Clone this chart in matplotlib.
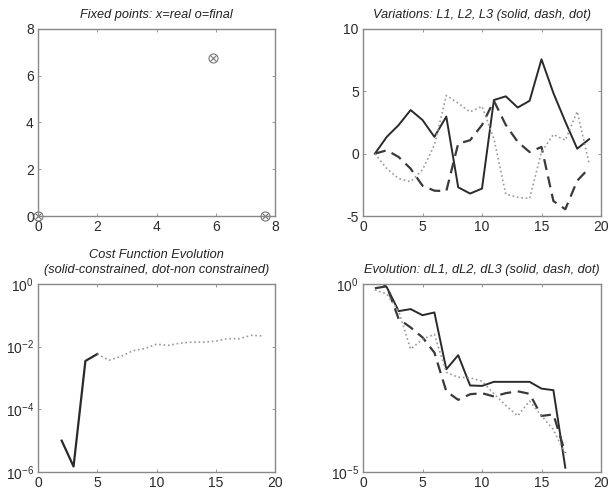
import numpy as np
import matplotlib
matplotlib.use("Agg")
import matplotlib.pyplot as plt

plt.rcParams['font.family'] = ['Liberation Sans', 'DejaVu Sans']
plt.rcParams['mathtext.fontset'] = 'custom'
plt.rcParams['mathtext.rm'] = 'Liberation Sans'
plt.rcParams['mathtext.it'] = 'Liberation Sans:italic'
plt.rcParams['axes.unicode_minus'] = False

# fixed points: real (x) and final (o)
real_x = [0.0, 5.9, 7.65]
real_y = [0.0, 6.75, 0.0]
final_x = [0.0, 5.9, 7.65]
final_y = [0.0, 6.75, 0.0]

# variations
steps = list(range(1, 20))
L1 = [0.0, 1.35, 2.3, 3.5, 2.7, 1.35, 2.97, -2.7, -3.2, -2.8,
      4.3, 4.6, 3.7, 4.24, 7.57, 4.86, 2.57, 0.4, 1.16]
L2 = [0.0, 0.27, -0.27, -1.2, -2.57, -2.97, -3.0, 0.8, 1.08, 2.3,
      4.24, 2.3, 0.95, 0.13, 0.54, -3.8, -4.46, -2.17, -1.16]
L3 = [0.0, -1.2, -2.0, -2.25, -1.3, 0.7, 4.67, 4.05, 3.35, 3.8,
      1.2, -3.25, -3.5, -3.6, 0.13, 1.54, 1.08, 3.38, -0.8]

# cost function
cost_con_x = [2, 3, 4, 5]
cost_con = [1.0e-5, 1.5e-6, 3.5e-3, 5.8e-3]
cost_free_x = list(range(5, 20))
cost_free = [5.8e-3, 3.7e-3, 4.9e-3, 7.4e-3, 8.7e-3, 1.2e-2, 1.1e-2, 1.3e-2,
             1.4e-2, 1.4e-2, 1.5e-2, 1.8e-2, 1.8e-2, 2.3e-2, 2.2e-2]

# evolution of dL
evo_x = list(range(1, 18))
dL1 = [1.6, 0.82, 0.19, 0.215, 0.148, 0.175, 5.4e-3, 1.28e-2, 2.0e-3, 1.95e-3,
       2.5e-3, 2.5e-3, 2.5e-3, 2.5e-3, 1.65e-3, 1.5e-3, 1.3e-5]
dL2 = [0.77, 0.87, 0.117, 0.07, 0.038, 0.015, 1.4e-3, 8.3e-4, 1.17e-3, 1.25e-3,
       1.02e-3, 1.25e-3, 1.4e-3, 1.2e-3, 3.1e-4, 3.4e-4, 3.2e-5]
dL3 = [0.7, 0.54, 0.19, 0.0185, 0.034, 0.046, 4.5e-3, 3.3e-3, 3.2e-3, 2.6e-3,
       1.2e-3, 5.9e-4, 3.1e-4, 7.7e-4, 3.1e-4, 1.35e-4, 2.9e-5]

dark = '#2a2a2a'
mid = '#3a3a3a'
light = '#9a9a9a'

fig = plt.figure(figsize=(6.08, 4.97), dpi=100)
W, H = 608, 497


def make_ax(x0, y0, x1, y1):
    ax = fig.add_axes([x0 / W, 1 - y1 / H, (x1 - x0) / W, (y1 - y0) / H])
    for s in ax.spines.values():
        s.set_color('#888888')
        s.set_linewidth(1.0)
    ax.tick_params(direction='in', length=2.5, width=0.6, colors='#888888',
                   labelcolor='#2a2a2a', labelsize=10, top=True, right=True, pad=3)
    ax.tick_params(which='minor', length=0)
    return ax


tstyle = dict(fontsize=9.2, style='italic', color='#222222')

# top left
ax1 = make_ax(38, 29, 275, 216)
ax1.plot(real_x, real_y, 'x', color='#777777', ms=4.5, mew=0.8, clip_on=False)
ax1.plot(final_x, final_y, 'o', color='#777777', mfc='none', ms=6.5, mew=0.8, clip_on=False)
ax1.set_xlim(0, 8)
ax1.set_ylim(0, 8)
ax1.set_xticks([0, 2, 4, 6, 8])
ax1.set_yticks([0, 2, 4, 6, 8])
ax1.set_title('Fixed points: x=real o=final', pad=8, **tstyle)

# top right
ax2 = make_ax(363, 29, 601, 216)
ax2.plot(steps, L1, '-', color=dark, lw=1.4)
ax2.plot(steps, L2, '--', color=mid, lw=1.6, dashes=(5, 3))
ax2.plot(steps, L3, ':', color=light, lw=1.2)
ax2.set_xlim(0, 20)
ax2.set_ylim(-5, 10)
ax2.set_xticks([0, 5, 10, 15, 20])
ax2.set_yticks([-5, 0, 5, 10])
ax2.set_title('Variations: L1, L2, L3 (solid, dash, dot)', pad=8, **tstyle)

# bottom left
ax3 = make_ax(38, 284, 275, 472)
ax3.semilogy(cost_con_x, cost_con, '-', color=dark, lw=1.6)
ax3.semilogy(cost_free_x, cost_free, ':', color=light, lw=1.2)
ax3.set_xlim(0, 20)
ax3.set_ylim(1e-6, 1)
ax3.set_xticks([0, 5, 10, 15, 20])
ax3.set_yticks([1e-6, 1e-4, 1e-2, 1])
ax3.set_title('Cost Function Evolution\n(solid-constrained, dot-non constrained)',
              pad=8, linespacing=1.3, **tstyle)

# bottom right
ax4 = make_ax(363, 284, 601, 472)
ax4.semilogy(evo_x, dL1, '-', color=dark, lw=1.4)
ax4.semilogy(evo_x, dL2, '--', color=mid, lw=1.6, dashes=(5, 3))
ax4.semilogy(evo_x, dL3, ':', color=light, lw=1.2)
ax4.set_xlim(0, 20)
ax4.set_ylim(1e-5, 1)
ax4.set_xticks([0, 5, 10, 15, 20])
ax4.set_yticks([1e-5, 1])
ax4.set_title('Evolution: dL1, dL2, dL3 (solid, dash, dot)', pad=8, **tstyle)

fig.savefig('out.png', dpi=100)
